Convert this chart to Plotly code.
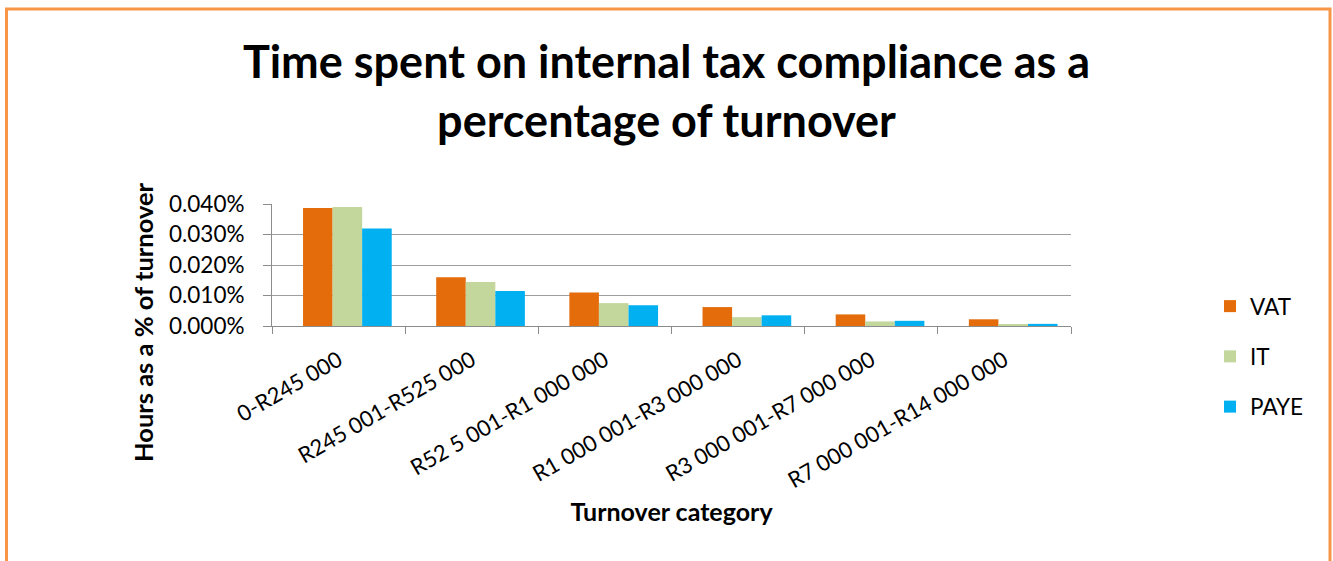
import plotly.graph_objects as go

categories = ["0-R245 000", "R245 001-R525 000", "R52 5 001-R1 000 000",
              "R1 000 001-R3 000 000", "R3 000 001-R7 000 000", "R7 000 001-R14 000 000"]
vat = [0.0387, 0.0160, 0.0110, 0.0062, 0.0038, 0.0022]
it = [0.0390, 0.0144, 0.0075, 0.0029, 0.0015, 0.0006]
paye = [0.0320, 0.0115, 0.0068, 0.0035, 0.0017, 0.0007]
y_ticks = [0, 0.01, 0.02, 0.03, 0.04]
y_tick_labels = ["0.000%", "0.010%", "0.020%", "0.030%", "0.040%"]
series = [("VAT", vat, "#E46C0A"), ("IT", it, "#C3D69B"), ("PAYE", paye, "#00B0F0")]
offsets = [-0.267, -0.045, 0.177]

FONT = "Lato"
fig = go.Figure()
for (name, vals, col), off in zip(series, offsets):
    fig.add_trace(go.Bar(x=categories, y=vals, name=name, marker_color=col,
                         marker_line_width=0, legendgroup=name,
                         width=0.222, offset=off))

L, R, T, B = 272, 262, 204, 235
W, H = 1333, 561
pw, ph = W - L - R, H - T - B

def px_x(p):
    return (p - L) / pw

def px_y(p):
    return (H - B - p) / ph

fig.update_layout(
    width=W, height=H,
    margin=dict(l=L, r=R, t=T, b=B, autoexpand=False),
    paper_bgcolor="white", plot_bgcolor="white",
    barmode="overlay",
    font=dict(family=FONT, color="#000000"),
    title=dict(text="<b>Time spent on internal tax compliance as a<br>percentage of turnover</b>",
               x=0.5, xref="container", xanchor="center", y=1 - 78 / H, yanchor="middle",
               font=dict(size=45, family=FONT)),
    showlegend=True,
    legend=dict(x=px_x(1210), y=px_y(285), xanchor="left", yanchor="top",
                font=dict(size=22.5, family=FONT), tracegroupgap=18,
                itemwidth=30, bgcolor="rgba(0,0,0,0)", maxheight=400),
    xaxis=dict(tickangle=-30, tickfont=dict(size=22, family=FONT),
               showline=True, linecolor="#8C8C8C", linewidth=1,
               ticks="outside", tickson="boundaries", tickcolor="#8C8C8C", ticklen=7,
               ticklabelstandoff=12,
               title=dict(text="<b>Turnover category</b>", font=dict(size=25, family=FONT),
                          standoff=11)),
    yaxis=dict(range=[0, 0.04], tickmode="array", tickvals=y_ticks, ticktext=y_tick_labels,
               tickfont=dict(size=22.5, family=FONT),
               showline=True, linecolor="#8C8C8C", linewidth=1,
               ticks="outside", tickcolor="#8C8C8C", ticklen=8, ticklabelstandoff=14,
               showgrid=True, gridcolor="#9E9E9E", gridwidth=1, zeroline=False),
    annotations=[dict(text="<b>Hours as a % of turnover</b>", textangle=-90,
                      xref="paper", yref="paper", x=px_x(143), y=px_y(322),
                      xanchor="center", yanchor="middle", showarrow=False,
                      font=dict(size=25.5, family=FONT))],
)

fig.add_shape(type="rect", xref="paper", yref="paper",
              x0=px_x(6.5), x1=px_x(1330), y0=px_y(600), y1=px_y(9),
              line=dict(color="#F79646", width=3), layer="below")

fig.write_html("out.html")
